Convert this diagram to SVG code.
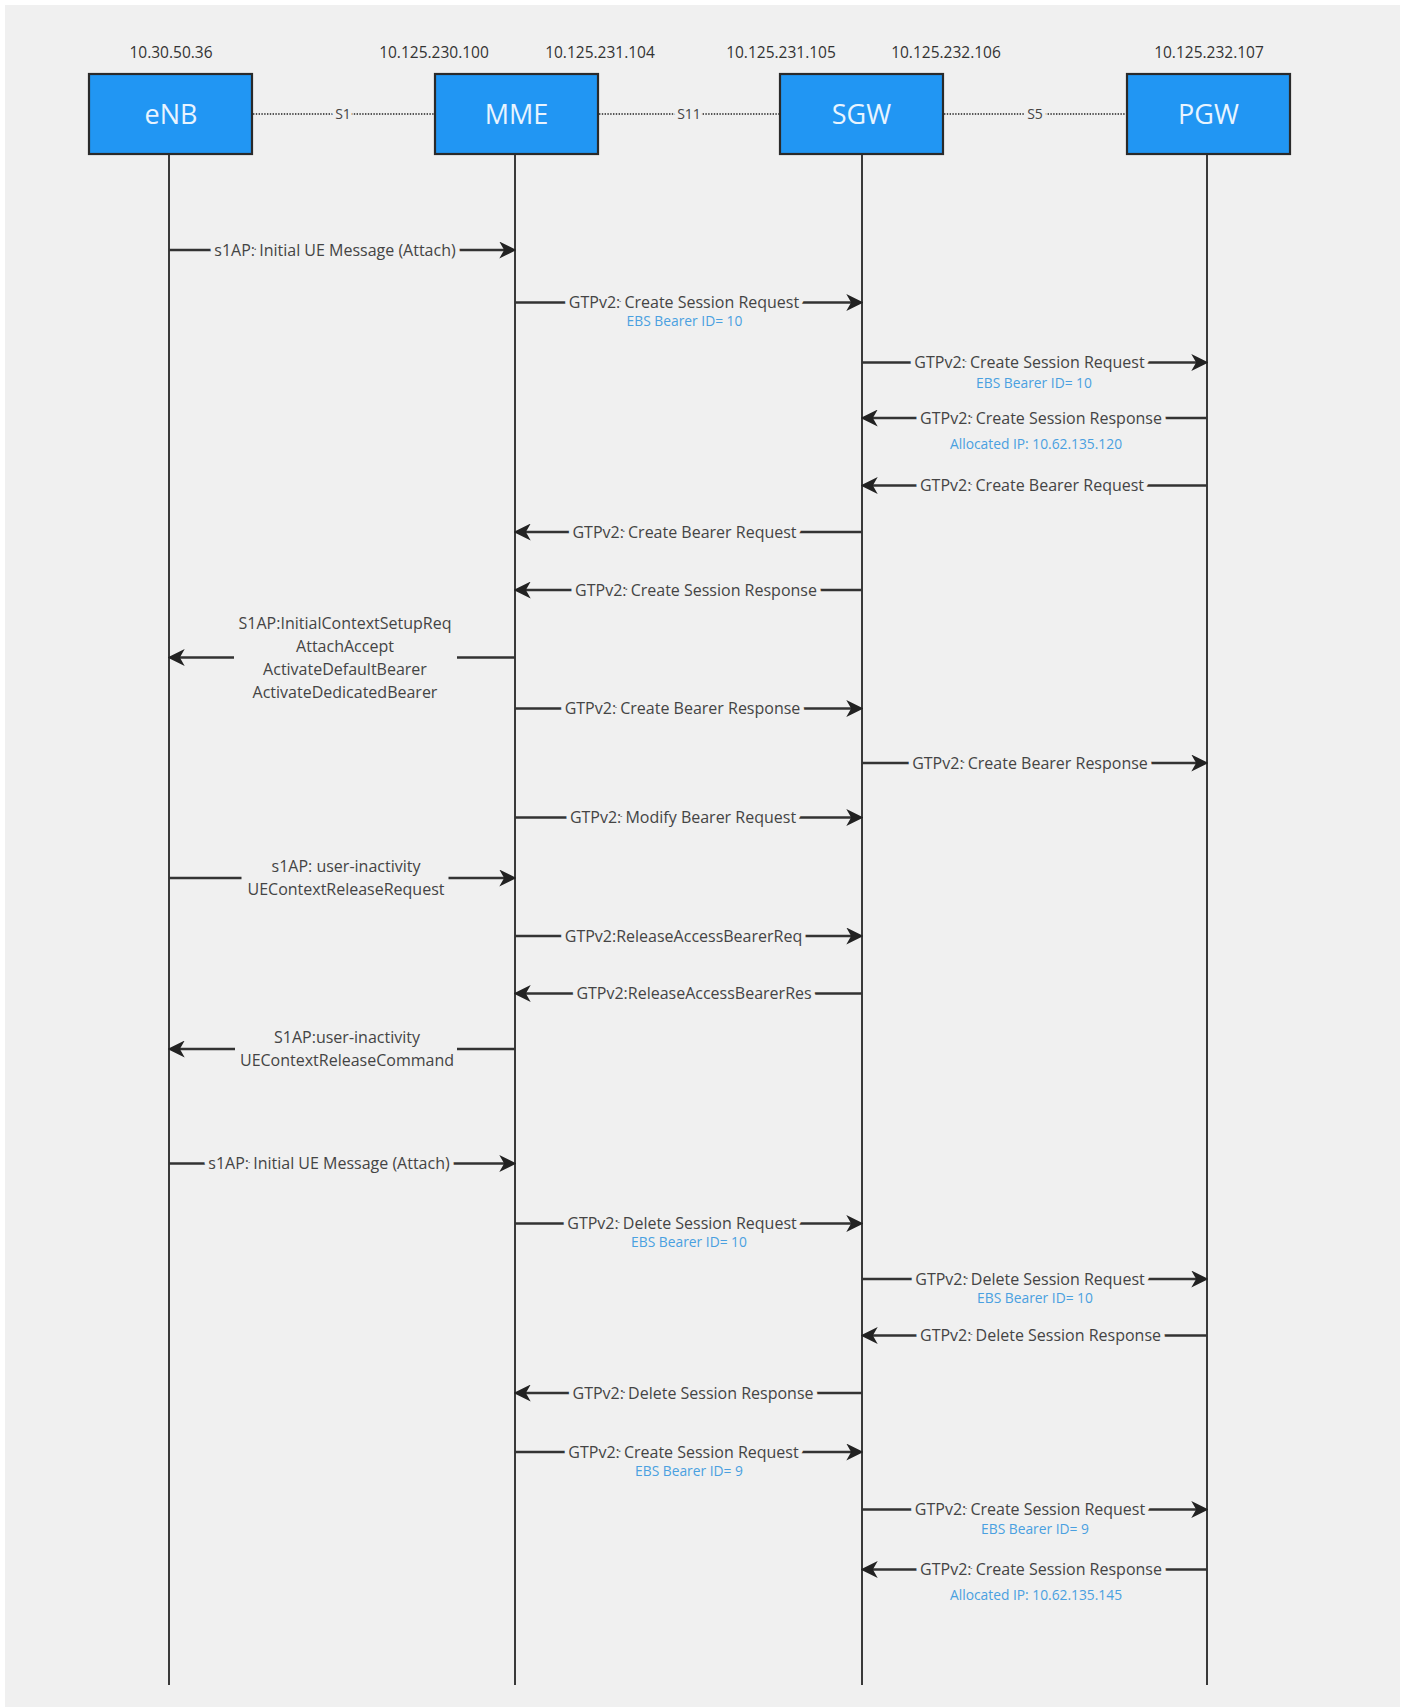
<svg xmlns="http://www.w3.org/2000/svg" width="1404" height="1707" viewBox="0 0 1404 1707">
<style>
text{font-family:"Open Sans","Noto Sans","Liberation Sans",sans-serif;}
.ip{font-size:15.5px;fill:#333;text-anchor:middle;}
.box{fill:#2196f3;stroke:#2a2a2a;stroke-width:2.2;}
.bt{font-size:27px;fill:#e8f4ff;text-anchor:middle;}
.life{stroke:#3a3a3a;stroke-width:2;fill:none;}
.dot{stroke:#555;stroke-width:1.8;stroke-dasharray:1.4 1.4;fill:none;}
.lk{font-size:14px;fill:#444;text-anchor:middle;paint-order:stroke;stroke:#f0f0f0;stroke-width:8px;stroke-linejoin:round;}
.msg{stroke:#333;stroke-width:2.4;fill:none;marker-end:url(#ah);}
.seg{stroke:#333;stroke-width:2.4;fill:none;}
.t{font-size:16px;fill:#444;text-anchor:middle;paint-order:stroke;stroke:#f0f0f0;stroke-width:9px;stroke-linejoin:round;}
.m{font-size:16px;fill:#444;text-anchor:middle;}
.s{font-size:13.8px;fill:#4aa0e0;text-anchor:middle;}
</style>
<defs>
<marker id="ah" markerUnits="userSpaceOnUse" markerWidth="17" markerHeight="17" viewBox="0 0 14 14" refX="8" refY="7" orient="auto">
<path d="M0,0 L14,7 L0,14 L4,7 Z" fill="#222"/>
</marker>
</defs>
<rect x="0" y="0" width="1404" height="1707" fill="#ffffff"/>
<rect x="5" y="5" width="1395" height="1702" fill="#f0f0f0"/>

<g id="node-enb">
<text class="ip" x="171" y="58">10.30.50.36</text>
<line class="life" x1="169" y1="155" x2="169" y2="1685"/>
<rect class="box" x="89" y="74" width="163" height="80"/>
<text class="bt" x="171" y="124">eNB</text>
</g>
<g id="node-mme">
<text class="ip" x="434" y="58">10.125.230.100</text>
<text class="ip" x="600" y="58">10.125.231.104</text>
<line class="life" x1="515" y1="155" x2="515" y2="1685"/>
<rect class="box" x="435" y="74" width="163" height="80"/>
<text class="bt" x="516.5" y="124">MME</text>
</g>
<g id="node-sgw">
<text class="ip" x="781" y="58">10.125.231.105</text>
<text class="ip" x="946" y="58">10.125.232.106</text>
<line class="life" x1="862" y1="155" x2="862" y2="1685"/>
<rect class="box" x="780" y="74" width="163" height="80"/>
<text class="bt" x="861.5" y="124">SGW</text>
</g>
<g id="node-pgw">
<text class="ip" x="1209" y="58">10.125.232.107</text>
<line class="life" x1="1207" y1="155" x2="1207" y2="1685"/>
<rect class="box" x="1127" y="74" width="163" height="80"/>
<text class="bt" x="1208.5" y="124">PGW</text>
</g>

<g id="connectors">
<g id="interfaces">
<line class="dot" x1="253" y1="114" x2="434" y2="114"/>
<text class="lk" x="343" y="119">S1</text>
<line class="dot" x1="599" y1="114" x2="779" y2="114"/>
<text class="lk" x="689" y="119">S11</text>
<line class="dot" x1="944" y1="114" x2="1126" y2="114"/>
<text class="lk" x="1035" y="119">S5</text>
</g>

<line class="msg" x1="169" y1="250" x2="509" y2="250"/>
<text class="t" x="335" y="255.5">s1AP: Initial UE Message (Attach)</text>

<line class="msg" x1="515" y1="302.5" x2="856" y2="302.5"/>
<text class="t" x="684" y="308">GTPv2: Create Session Request</text>
<text class="s" x="684.5" y="325.5">EBS Bearer ID= 10</text>

<line class="msg" x1="862" y1="362.5" x2="1201" y2="362.5"/>
<text class="t" x="1029.5" y="368">GTPv2: Create Session Request</text>
<text class="s" x="1034" y="387.5">EBS Bearer ID= 10</text>

<line class="msg" x1="1207" y1="418" x2="868" y2="418"/>
<text class="t" x="1041" y="423.5">GTPv2: Create Session Response</text>
<text class="s" x="1036" y="448.5">Allocated IP: 10.62.135.120</text>

<line class="msg" x1="1207" y1="485.5" x2="868" y2="485.5"/>
<text class="t" x="1032" y="491">GTPv2: Create Bearer Request</text>

<line class="msg" x1="862" y1="532" x2="521" y2="532"/>
<text class="t" x="684.5" y="537.5">GTPv2: Create Bearer Request</text>

<line class="msg" x1="862" y1="590" x2="521" y2="590"/>
<text class="t" x="696" y="595.5">GTPv2: Create Session Response</text>

<line class="seg" x1="515" y1="657.5" x2="457" y2="657.5"/>
<line class="msg" x1="234" y1="657.5" x2="175" y2="657.5"/>
<text class="m" x="345" y="629">S1AP:InitialContextSetupReq</text>
<text class="m" x="345" y="652">AttachAccept</text>
<text class="m" x="345" y="675">ActivateDefaultBearer</text>
<text class="m" x="345" y="697.5">ActivateDedicatedBearer</text>

<line class="msg" x1="515" y1="708.5" x2="856" y2="708.5"/>
<text class="t" x="682.5" y="714">GTPv2: Create Bearer Response</text>

<line class="msg" x1="862" y1="763" x2="1201" y2="763"/>
<text class="t" x="1030" y="768.5">GTPv2: Create Bearer Response</text>

<line class="msg" x1="515" y1="817.5" x2="856" y2="817.5"/>
<text class="t" x="683" y="823">GTPv2: Modify Bearer Request</text>

<line class="seg" x1="169" y1="878" x2="241.5" y2="878"/>
<line class="msg" x1="448.5" y1="878" x2="509" y2="878"/>
<text class="m" x="346" y="872">s1AP: user-inactivity</text>
<text class="m" x="346" y="894.5">UEContextReleaseRequest</text>

<line class="msg" x1="515" y1="936" x2="856" y2="936"/>
<text class="t" x="683.5" y="941.5">GTPv2:ReleaseAccessBearerReq</text>

<line class="msg" x1="862" y1="993.5" x2="521" y2="993.5"/>
<text class="t" x="694" y="999">GTPv2:ReleaseAccessBearerRes</text>

<line class="seg" x1="515" y1="1049" x2="457" y2="1049"/>
<line class="msg" x1="235" y1="1049" x2="175" y2="1049"/>
<text class="m" x="347" y="1043">S1AP:user-inactivity</text>
<text class="m" x="347" y="1065.5">UEContextReleaseCommand</text>

<line class="msg" x1="169" y1="1163.5" x2="509" y2="1163.5"/>
<text class="t" x="329" y="1169">s1AP: Initial UE Message (Attach)</text>

<line class="msg" x1="515" y1="1223.5" x2="856" y2="1223.5"/>
<text class="t" x="682" y="1229">GTPv2: Delete Session Request</text>
<text class="s" x="689" y="1246.5">EBS Bearer ID= 10</text>

<line class="msg" x1="862" y1="1279" x2="1201" y2="1279"/>
<text class="t" x="1030" y="1284.5">GTPv2: Delete Session Request</text>
<text class="s" x="1035" y="1303">EBS Bearer ID= 10</text>

<line class="msg" x1="1207" y1="1335.5" x2="868" y2="1335.5"/>
<text class="t" x="1040.5" y="1341">GTPv2: Delete Session Response</text>

<line class="msg" x1="862" y1="1393" x2="521" y2="1393"/>
<text class="t" x="693" y="1398.5">GTPv2: Delete Session Response</text>

<line class="msg" x1="515" y1="1452" x2="856" y2="1452"/>
<text class="t" x="683.5" y="1457.5">GTPv2: Create Session Request</text>
<text class="s" x="689" y="1475.5">EBS Bearer ID= 9</text>

<line class="msg" x1="862" y1="1509.5" x2="1201" y2="1509.5"/>
<text class="t" x="1030" y="1515">GTPv2: Create Session Request</text>
<text class="s" x="1035" y="1533.5">EBS Bearer ID= 9</text>

<line class="msg" x1="1207" y1="1569.5" x2="868" y2="1569.5"/>
<text class="t" x="1041" y="1575">GTPv2: Create Session Response</text>
<text class="s" x="1036" y="1600">Allocated IP: 10.62.135.145</text>
</g>
</svg>
